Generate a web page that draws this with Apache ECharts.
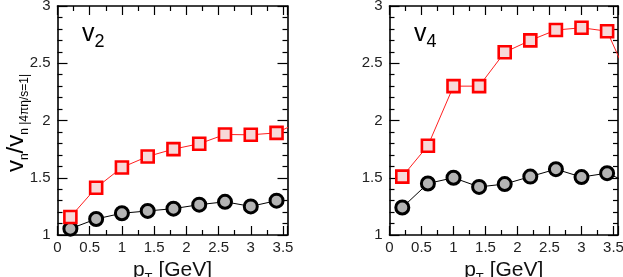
<!DOCTYPE html>
<html><head><meta charset="utf-8">
<script src="https://cdn.jsdelivr.net/npm/echarts@6/dist/echarts.min.js"></script>
<style>html,body{margin:0;padding:0;background:#fff}#c{width:623px;height:277px}</style>
</head><body><div id="c"></div>
<script>
const pT = [0.2, 0.6, 1.0, 1.4, 1.8, 2.2, 2.6, 3.0, 3.4, 3.8];
const v2Red = [1.157, 1.413, 1.59, 1.686, 1.75, 1.797, 1.878, 1.875, 1.892, 2.0];
const v2Black = [1.055, 1.14, 1.19, 1.21, 1.23, 1.265, 1.29, 1.25, 1.30];
const v4Red = [1.51, 1.78, 2.30, 2.30, 2.596, 2.70, 2.79, 2.81, 2.78, 2.28];
const v4Black = [1.24, 1.45, 1.50, 1.42, 1.445, 1.51, 1.575, 1.506, 1.54, 1.44];
const xTickLabels = ['0', '0.5', '1', '1.5', '2', '2.5', '3', '3.5'];
const yTickLabels = ['1', '1.5', '2', '2.5', '3'];
const panelTitles = [['v', '2'], ['v', '4']];

const FONT = 'Liberation Sans, Arial, sans-serif';
const chart = echarts.init(document.getElementById('c'), null, {renderer: 'canvas'});

const grids = [
  {left: 57.5, top: 6, width: 230, height: 229, outerBoundsMode: 'none', containLabel: false},
  {left: 389.5, top: 6, width: 228.5, height: 229, outerBoundsMode: 'none', containLabel: false}
];
const XMAX = 3.57;

function fmtX(v) {
  const s = String(Math.round(v * 100) / 100);
  return xTickLabels.indexOf(s) >= 0 ? s : '';
}
function fmtY(v) {
  const s = String(Math.round(v * 100) / 100);
  return yTickLabels.indexOf(s) >= 0 ? s : '';
}
function ts() { return {color: '#000', width: 1.2}; }

const xAxes = [], yAxes = [];
grids.forEach((g, i) => {
  ['bottom', 'top'].forEach(pos => {
    const ax = {
      gridIndex: i, type: 'value', min: 0, max: XMAX, interval: 0.5, position: pos,
      axisLine: {show: true, onZero: false, lineStyle: {color: '#000', width: 1.6}},
      axisTick: {show: true, inside: true, length: 9, lineStyle: ts()},
      minorTick: {show: true, splitNumber: 2, length: 5, lineStyle: ts()},
      splitLine: {show: false}
    };
    if (pos === 'bottom') {
      ax.axisLabel = {show: true, color: '#222', fontSize: 15, fontFamily: FONT, margin: 5, formatter: fmtX};
      ax.name = '{p|p}{s|T}{p| [GeV]}';
      ax.nameLocation = 'middle';
      ax.nameGap = 7;
      ax.nameTextStyle = {rich: {
        p: {fontSize: 21, fontFamily: FONT, color: '#111', lineHeight: 30, verticalAlign: 'middle'},
        s: {fontSize: 13, fontFamily: FONT, color: '#111', lineHeight: 30, verticalAlign: 'bottom'}
      }};
    } else {
      ax.axisLabel = {show: false};
    }
    xAxes.push(ax);
  });
  ['left', 'right'].forEach(pos => {
    const ax = {
      gridIndex: i, type: 'value', min: 1, max: 3, interval: 0.5, position: pos,
      axisLine: {show: true, onZero: false, lineStyle: {color: '#000', width: 1.6}},
      axisTick: {show: true, inside: true, length: 10, lineStyle: ts()},
      minorTick: {show: true, splitNumber: 5, length: 5, lineStyle: ts()},
      splitLine: {show: false}
    };
    ax.axisLabel = pos === 'left'
      ? {show: true, color: '#222', fontSize: 15, fontFamily: FONT, margin: 7, formatter: fmtY}
      : {show: false};
    yAxes.push(ax);
  });
});

function pairs(xs, ys) { return ys.map((y, k) => [xs[k], y]); }

function redSeries(gi, ys) {
  return {
    type: 'line', xAxisIndex: gi * 2, yAxisIndex: gi * 2,
    data: pairs(pT, ys), clip: true,
    symbol: 'rect', symbolSize: 12,
    lineStyle: {color: '#ff2020', width: 1},
    itemStyle: {color: '#f7d8d8', borderColor: '#ff0000', borderWidth: 2.6},
    emphasis: {disabled: true}, z: 3
  };
}
function blackSeries(gi, ys) {
  return {
    type: 'line', xAxisIndex: gi * 2, yAxisIndex: gi * 2,
    data: pairs(pT, ys), clip: true,
    symbol: 'circle', symbolSize: 13,
    lineStyle: {color: '#000', width: 1},
    itemStyle: {color: '#b4b4b4', borderColor: '#000', borderWidth: 3},
    emphasis: {disabled: true}, z: 2
  };
}

const richSub = {
  v: {fontSize: 25, fontFamily: FONT, color: '#000', lineHeight: 34, verticalAlign: 'middle'},
  s: {fontSize: 18, fontFamily: FONT, color: '#000', lineHeight: 34, verticalAlign: 'bottom'}
};

const graphic = [
  {type: 'text', left: 82, top: 22, z: 10,
   style: {text: '{v|' + panelTitles[0][0] + '}{s|' + panelTitles[0][1] + '}', rich: richSub}},
  {type: 'text', left: 414, top: 22, z: 10,
   style: {text: '{v|' + panelTitles[1][0] + '}{s|' + panelTitles[1][1] + '}', rich: richSub}},
  {type: 'text', x: 16, y: 123, rotation: Math.PI / 2, z: 10,
   style: {
     text: '{b|v}{s|n}{b|/v}{s|n |4πη/s=1|}',
     align: 'center', verticalAlign: 'middle',
     rich: {
       b: {fontSize: 24, fontFamily: FONT, color: '#111', lineHeight: 30, verticalAlign: 'middle'},
       s: {fontSize: 12, fontFamily: FONT, color: '#111', lineHeight: 30, verticalAlign: 'bottom'}
     }
   }}
];

chart.setOption({
  animation: false,
  backgroundColor: '#fff',
  grid: grids,
  xAxis: xAxes,
  yAxis: yAxes,
  graphic: graphic,
  series: [
    blackSeries(0, v2Black), redSeries(0, v2Red),
    blackSeries(1, v4Black), redSeries(1, v4Red)
  ]
});
</script></body></html>
